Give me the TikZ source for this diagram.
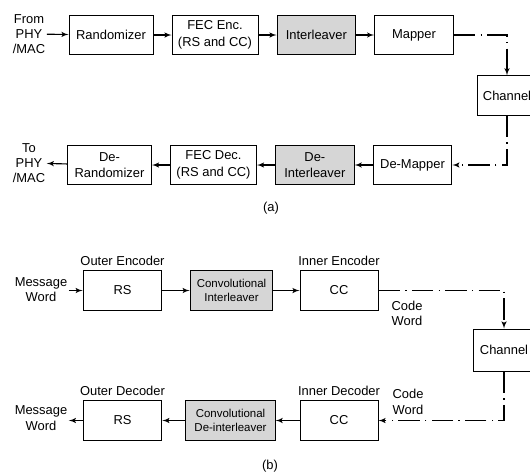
\documentclass[tikz,border=0pt]{standalone}
\usepackage{fontspec}
\setmainfont{Liberation Sans}
\usetikzlibrary{shapes,arrows,positioning}

\begin{document}
\begin{tikzpicture}[x=0.75pt, y=-0.75pt, node distance=13.5pt, auto]

            % Define block styles
            \tikzstyle{block} = [rectangle, draw, line width=0.75pt, fill=white, align=center, sharp corners, minimum height=29.5pt, inner sep=1pt, font=\fontsize{9.7}{12.4}\selectfont]
            \tikzstyle{shade} = [block, fill=black!16]
            \tikzstyle{small} = [font=\fontsize{8.6}{10.7}\selectfont]
            \tikzstyle{txt} = [align=center, inner sep=1pt, font=\fontsize{9.7}{11.5}\selectfont]
            \tikzstyle{line} = [draw, line width=0.85pt, -latex']
            \tikzstyle{air} = [draw, line width=0.85pt, dash pattern=on 16pt off 4pt on 1pt off 4pt, -latex']

            \useasboundingbox (0,0) rectangle (530,472);

            % (a) Nodes
            \node [txt] (from) at (29,34) {From\\PHY\\/MAC};
            \node [block, minimum width=63pt] (rand) at (111,35) {Randomizer};
            \node [block, minimum width=64.5pt, right=of rand] (fecenc) {FEC Enc.\\(RS and CC)};
            \node [shade, minimum width=59pt, right=of fecenc] (inter) {Interleaver};
            \node [block, minimum width=59pt, right=of inter] (map) {Mapper};
            \node [block, minimum width=45pt] (chana) at (507,95.5) {Channel};
            \node [block, minimum width=59pt] (demap) at (412.5,165) {De-Mapper};
            \node [shade, minimum width=59pt, left=of demap] (deinter) {De-\\Interleaver};
            \node [block, minimum width=64.5pt, left=of deinter] (fecdec) {FEC Dec.\\(RS and CC)};
            \node [block, minimum width=63pt, left=of fecdec] (derand) {De-\\Randomizer};
            \node [txt] (to) at (29,163) {To\\PHY\\/MAC};
            \node [txt] (capa) at (271,208) {(a)};

            % (a) Arrows
            \path [line] (from) -- (rand);
            \path [line] (rand) -- (fecenc);
            \path [line] (fecenc) -- (inter);
            \path [line] (inter) -- (map);
            \path [air] (map.east) -- (chana.north |- map) -- (chana.north);
            \path [air] (chana.south) -- (chana.south |- demap) -- (demap.east);
            \path [line] (demap) -- (deinter);
            \path [line] (deinter) -- (fecdec);
            \path [line] (fecdec) -- (derand);
            \path [line] (derand) -- (to);

            % (b) Nodes
            \node [txt] (msgin) at (41,289.5) {Message\\Word};
            \node [block, minimum width=59pt] (rsenc) at (122.5,290.5) {RS};
            \node [shade, small, minimum width=62pt] (convint) at (231.5,290.5) {Convolutional\\Interleaver};
            \node [block, minimum width=58.5pt] (ccenc) at (339,290.5) {CC};
            \node [txt, above=2pt of rsenc] (outenc) {Outer Encoder};
            \node [txt, above=2pt of ccenc] (inenc) {Inner Encoder};
            \node [txt] (cwin) at (407,313.5) {Code\\Word};
            \node [block, minimum width=46.5pt, minimum height=31.5pt] (chanb) at (504,350) {Channel};
            \node [block, minimum width=58.5pt] (ccdec) at (339,420.5) {CC};
            \node [shade, small, minimum width=67pt] (convdeint) at (230.5,420.5) {Convolutional\\De-interleaver};
            \node [block, minimum width=59pt] (rsdec) at (122.5,420.5) {RS};
            \node [txt, above=2pt of rsdec] (outdec) {Outer Decoder};
            \node [txt, above=2pt of ccdec] (indec) {Inner Decoder};
            \node [txt] (cwout) at (408,402) {Code\\Word};
            \node [txt] (msgout) at (41,418) {Message\\Word};
            \node [txt] (capb) at (270,466) {(b)};

            % (b) Arrows
            \path [line] (msgin.east |- rsenc) -- (rsenc);
            \path [line] (rsenc) -- (convint);
            \path [line] (convint) -- (ccenc);
            \path [air] (ccenc.east) -- (chanb.north |- ccenc) -- (chanb.north);
            \path [air] (chanb.south) -- (chanb.south |- ccdec) -- (ccdec.east);
            \path [line] (ccdec) -- (convdeint);
            \path [line] (convdeint) -- (rsdec);
            \path [line] (rsdec) -- (msgout.east |- rsdec);

        \end{tikzpicture}
\end{document}
